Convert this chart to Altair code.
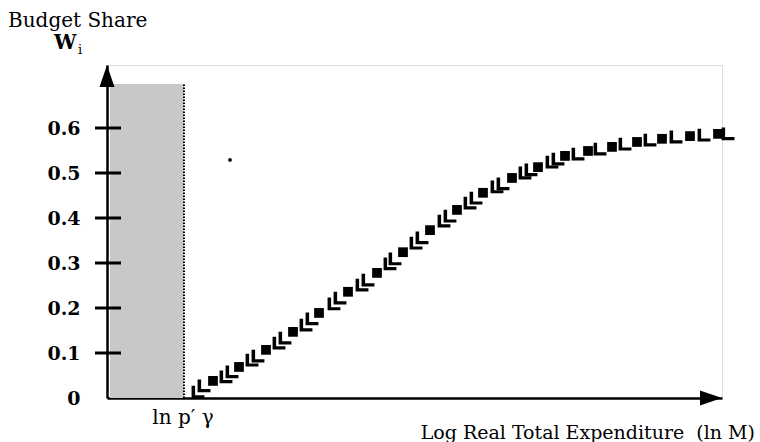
import altair as alt
import pandas as pd

# filled square markers (x in arbitrary log-expenditure units, y = budget share)
sq_x = [1.06, 1.32, 1.59, 1.86, 2.12, 2.41, 2.70, 2.96, 3.23, 3.50, 3.76, 4.05,
        4.31, 4.58, 4.81, 5.05, 5.30, 5.55, 5.83, 6.11]
sq_y = [0.038, 0.069, 0.107, 0.147, 0.189, 0.236, 0.278, 0.324, 0.373, 0.418, 0.456, 0.489,
        0.513, 0.538, 0.549, 0.558, 0.569, 0.576, 0.582, 0.587]

# L-shaped markers
l_x = [0.91, 0.97, 1.19, 1.25, 1.45, 1.51, 1.72, 1.78, 1.99, 2.05, 2.27, 2.33,
       2.55, 2.61, 2.83, 2.88, 3.09, 3.15, 3.37, 3.43, 3.63, 3.69, 3.90, 3.96,
       4.18, 4.24, 4.45, 4.51, 4.71, 4.93, 5.18, 5.43, 5.69, 5.97, 6.21]
l_y = [0.013, 0.027, 0.047, 0.058, 0.084, 0.093, 0.122, 0.133, 0.162, 0.176, 0.209, 0.222,
       0.251, 0.262, 0.298, 0.309, 0.344, 0.356, 0.393, 0.404, 0.433, 0.444, 0.469, 0.476,
       0.500, 0.507, 0.524, 0.531, 0.542, 0.553, 0.564, 0.573, 0.580, 0.584, 0.587]

stray_x = [1.23]
stray_y = [0.529]

tick_values = [0.1, 0.2, 0.3, 0.4, 0.5, 0.6]
shade = {"x0": [0.03], "x1": [0.77], "y0": [0.0], "y1": [0.698]}

X_DOM = [0, 6.15]
Y_DOM = [0, 0.74]
FONT = "DejaVu Serif"

xs = alt.Scale(domain=X_DOM, nice=False, zero=False)
ys = alt.Scale(domain=Y_DOM, nice=False, zero=False)

sq_df = pd.DataFrame({"x": sq_x, "y": sq_y})
l_df = pd.DataFrame({"x": l_x, "y": l_y})
stray_df = pd.DataFrame({"x": stray_x, "y": stray_y})
tick_df = pd.DataFrame({"v": tick_values})
shade_df = pd.DataFrame(shade)

base_axes = alt.Chart(pd.DataFrame({"x": [0], "y": [0]})).mark_point(opacity=0).encode(
    x=alt.X("x:Q", scale=xs, axis=alt.Axis(title=None, labels=False, ticks=False, grid=False,
                                            domainColor="black", domainWidth=2.5)),
    y=alt.Y("y:Q", scale=ys, axis=alt.Axis(title=None, values=[0] + tick_values, ticks=False, grid=False,
                                            domainColor="black", domainWidth=2.5,
                                            labelFont=FONT, labelFontSize=19, labelFontWeight="bold",
                                            labelColor="black", labelPadding=27,
                                            labelExpr="datum.value == 0 ? '0' : format(datum.value, '.1f')")),
)

shade_rect = alt.Chart(shade_df).mark_rect(color="#c8c8c8").encode(
    x=alt.X("x0:Q", scale=xs), x2="x1:Q", y=alt.Y("y0:Q", scale=ys), y2="y1:Q"
)
shade_edge = alt.Chart(shade_df).mark_rule(color="black", strokeWidth=2, strokeDash=[1.5, 1.5]).encode(
    x=alt.X("x1:Q", scale=xs), y=alt.Y("y0:Q", scale=ys), y2="y1:Q"
)

ticks = alt.Chart(tick_df).mark_rule(color="black", strokeWidth=3).encode(
    y=alt.Y("v:Q", scale=ys), x=alt.value(-12), x2=alt.value(14)
)

L_PATH = "M-1,-1 L-0.45,-1 L-0.45,0.5 L1,0.5 L1,1 L-1,1 Z"
l_marks = alt.Chart(l_df).mark_point(shape=L_PATH, filled=True, size=165, color="black", opacity=1).encode(
    x=alt.X("x:Q", scale=xs), y=alt.Y("y:Q", scale=ys)
)
sq_marks = alt.Chart(sq_df).mark_point(shape="square", filled=True, size=95, color="black", opacity=1).encode(
    x=alt.X("x:Q", scale=xs), y=alt.Y("y:Q", scale=ys)
)
stray = alt.Chart(stray_df).mark_point(shape="circle", filled=True, size=14, color="black", opacity=1).encode(
    x=alt.X("x:Q", scale=xs), y=alt.Y("y:Q", scale=ys)
)

one = pd.DataFrame({"k": [0]})
up_arrow = alt.Chart(one).mark_point(shape="M0,-1 L0.68,1 L-0.68,1 Z", filled=True, size=484,
                                     color="black", opacity=1).encode(x=alt.value(0), y=alt.value(11))
right_arrow = alt.Chart(one).mark_point(shape="M1,0 L-1,0.68 L-1,-0.68 Z", filled=True, size=484,
                                        color="black", opacity=1).encode(x=alt.value(604), y=alt.value(333))


def label(text, x, y, size=17, align="left", weight="normal"):
    return alt.Chart(pd.DataFrame({"t": [text]})).mark_text(
        font=FONT, fontSize=size, color="black", align=align, baseline="middle", fontWeight=weight
    ).encode(text="t:N", x=alt.value(x), y=alt.value(y))


texts = [
    label("Budget Share", -99, -44, 20),
    label("W", -53, -22, 20, weight="bold"),
    label("i", -29, -15, 13),
    label("ln p\u2032 \u03b3", 76, 353, 20, "center"),
    label("Log Real Total Expenditure\u00a0\u00a0(ln M)", 648, 368, 19, "right"),
]

chart = alt.layer(
    base_axes, shade_rect, shade_edge, ticks, l_marks, sq_marks, stray, up_arrow, right_arrow, *texts
).properties(
    width=615, height=333,
    autosize=alt.AutoSizeParams(type="none"),
    padding={"left": 107, "top": 65, "right": 38, "bottom": 44},
).configure_view(stroke=None).configure(background="white")

chart.save("out.html", embed_options={"renderer": "svg", "actions": False})
